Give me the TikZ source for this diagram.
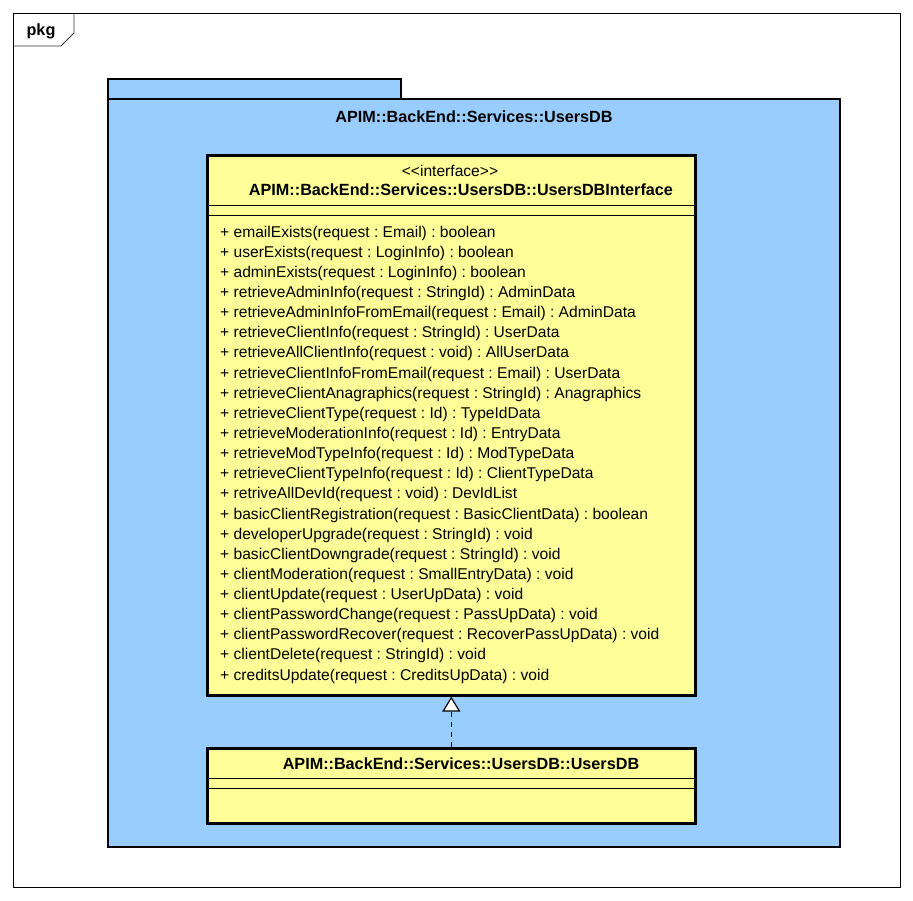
\documentclass[tikz,border=0pt]{standalone}
\usepackage{fontspec}
\setmainfont{Liberation Sans}
\usetikzlibrary{arrows.meta,positioning}
\definecolor{pkgblue}{HTML}{99CCFF}
\definecolor{classyellow}{HTML}{FFFF99}
\frenchspacing

\begin{document}
\begin{tikzpicture}[x=1pt,y=-1pt,
    font=\fontsize{15.6}{18}\selectfont,
    titlefont/.style={font=\fontsize{16.2}{18}\selectfont\bfseries},
    pkgbox/.style={draw, line width=2.6pt, fill=pkgblue},
    classbox/.style={draw, line width=2.6pt, fill=classyellow, anchor=north west, inner sep=0pt},
    oplabel/.style={anchor=west, inner sep=0pt},
    realize/.style={dashed, dash pattern=on 5pt off 5pt, line width=1.3pt,
        -{Triangle[open, fill=white, length=15pt, width=18pt, line width=1.2pt]}}]
    \useasboundingbox (0,0) rectangle (913,900);
    % outer frame
    \draw[line width=1pt] (13,13) rectangle (900,887);
    \draw[line width=0.8pt, black!80] (13,46) -- (61,46) -- (74,33) -- (74,13);
    \node[titlefont, inner sep=0pt] (pkgname) at (41,31) {pkg};
    % package
    \draw[pkgbox] (108,79) rectangle (401,99);
    \draw[pkgbox] (108,99) rectangle (840,847);
    \node[titlefont, inner sep=0pt] (pkgtitle) at (474,117) {APIM::BackEnd::Services::UsersDB};
    % interface
    \node[classbox, minimum width=488pt, minimum height=540pt] (iface) at (206,154) {};
    \node[inner sep=0pt] (stereo) at (450,171) {{<}{<}interface{>}{>}};
    \node[titlefont, inner sep=0pt] (ifacename) at (461,190) {APIM::BackEnd::Services::UsersDB::UsersDBInterface};
    \draw[line width=1pt] (206,205) -- (694,205);
    \draw[line width=1pt] (206,215) -- (694,215);
    \foreach \op [count=\i from 0] in {
        + emailExists(request : Email) : boolean,
        + userExists(request : LoginInfo) : boolean,
        + adminExists(request : LoginInfo) : boolean,
        + retrieveAdminInfo(request : StringId) : AdminData,
        + retrieveAdminInfoFromEmail(request : Email) : AdminData,
        + retrieveClientInfo(request : StringId) : UserData,
        + retrieveAllClientInfo(request : void) : AllUserData,
        + retrieveClientInfoFromEmail(request : Email) : UserData,
        + retrieveClientAnagraphics(request : StringId) : Anagraphics,
        + retrieveClientType(request : Id) : TypeIdData,
        + retrieveModerationInfo(request : Id) : EntryData,
        + retrieveModTypeInfo(request : Id) : ModTypeData,
        + retrieveClientTypeInfo(request : Id) : ClientTypeData,
        + retriveAllDevId(request : void) : DevIdList,
        + basicClientRegistration(request : BasicClientData) : boolean,
        + developerUpgrade(request : StringId) : void,
        + basicClientDowngrade(request : StringId) : void,
        + clientModeration(request : SmallEntryData) : void,
        + clientUpdate(request : UserUpData) : void,
        + clientPasswordChange(request : PassUpData) : void,
        + clientPasswordRecover(request : RecoverPassUpData) : void,
        + clientDelete(request : StringId) : void,
        + creditsUpdate(request : CreditsUpData) : void}
        \node[oplabel] (op\i) at (220,233+20.14*\i) {\op};
    % implementing class
    \node[classbox, minimum width=488pt, minimum height=75pt] (usersdb) at (206,747) {};
    \node[titlefont, inner sep=0pt] (usersdbname) at (461,764) {APIM::BackEnd::Services::UsersDB::UsersDB};
    \draw[line width=1pt] (206,778) -- (694,778);
    \draw[line width=1pt] (206,788) -- (694,788);
    \draw[realize] (usersdb.north) -- (iface.south);
\end{tikzpicture}
\end{document}
